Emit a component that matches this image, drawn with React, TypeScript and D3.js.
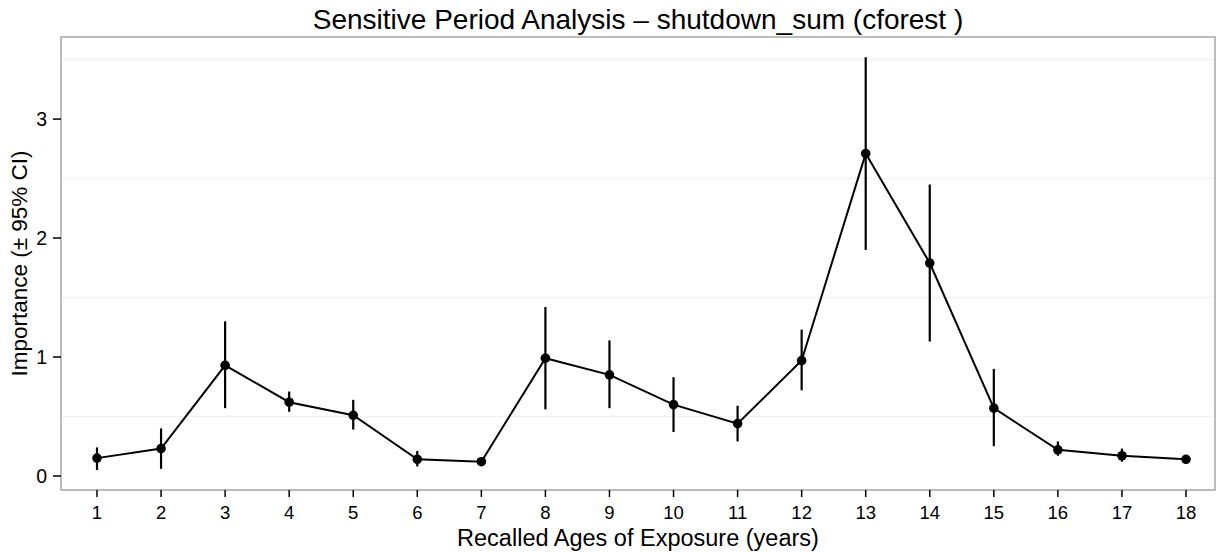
import React from "react";
import * as d3 from "d3";

const ages = [1, 2, 3, 4, 5, 6, 7, 8, 9, 10, 11, 12, 13, 14, 15, 16, 17, 18];
const importance = [0.15, 0.23, 0.93, 0.62, 0.51, 0.14, 0.12, 0.99, 0.85, 0.6, 0.44, 0.97, 2.71, 1.79, 0.57, 0.22, 0.17, 0.14];
const ciLow = [0.05, 0.06, 0.57, 0.54, 0.39, 0.08, 0.11, 0.56, 0.57, 0.37, 0.29, 0.72, 1.9, 1.13, 0.25, 0.17, 0.12, 0.12];
const ciHigh = [0.24, 0.4, 1.3, 0.71, 0.64, 0.21, 0.13, 1.42, 1.14, 0.83, 0.59, 1.23, 3.52, 2.45, 0.9, 0.29, 0.23, 0.16];
const yTicks = [0, 1, 2, 3];
const yMinor = [0.5, 1.5, 2.5, 3.5];

const W = 1217;
const H = 552;
const panel = { left: 61, top: 37, right: 1215, bottom: 490 };

export default function App() {
  const x = d3.scaleLinear().domain([1, 18]).range([97, 1186]);
  const y = d3.scaleLinear().domain([-0.118, 3.69]).range([panel.bottom, panel.top]);
  const line = d3
    .line<number>()
    .x((_, i) => x(ages[i]))
    .y((d) => y(d));
  const font = "'Liberation Sans', Arial, Helvetica, sans-serif";
  const cx = (panel.left + panel.right) / 2;
  return (
    <svg
      width={W}
      height={H}
      style={{ position: "absolute", left: 0, top: 0, background: "#fff" }}
      fontFamily={font}
    >
      <rect x={0} y={0} width={W} height={H} fill="#fff" />
      {yMinor.map((v) => (
        <line key={"m" + v} x1={panel.left} x2={panel.right} y1={y(v)} y2={y(v)} stroke="#f2f2f2" strokeWidth={1.5} />
      ))}
      <rect
        x={panel.left}
        y={panel.top}
        width={panel.right - panel.left}
        height={panel.bottom - panel.top}
        fill="none"
        stroke="#a6a6a6"
        strokeWidth={1.5}
      />
      {yTicks.map((v) => (
        <g key={"y" + v}>
          <line x1={panel.left - 8} x2={panel.left} y1={y(v)} y2={y(v)} stroke="#000" strokeWidth={1.5} />
          <text x={panel.left - 14} y={y(v)} dy="0.36em" textAnchor="end" fontSize={19.5} fill="#000">
            {v}
          </text>
        </g>
      ))}
      {ages.map((a) => (
        <g key={"x" + a}>
          <line x1={x(a)} x2={x(a)} y1={panel.bottom} y2={panel.bottom + 7} stroke="#000" strokeWidth={1.5} />
          <text x={x(a)} y={518.5} textAnchor="middle" fontSize={18.5} fill="#000">
            {a}
          </text>
        </g>
      ))}
      {ages.map((a, i) => (
        <line
          key={"e" + a}
          x1={x(a)}
          x2={x(a)}
          y1={y(ciLow[i])}
          y2={y(ciHigh[i])}
          stroke="#000"
          strokeWidth={2.2}
        />
      ))}
      <path d={line(importance) || ""} fill="none" stroke="#000" strokeWidth={2} />
      {ages.map((a, i) => (
        <circle key={"p" + a} cx={x(a)} cy={y(importance[i])} r={4.8} fill="#000" />
      ))}
      <text x={cx} y={29} textAnchor="middle" fontSize={28} fill="#000">
        Sensitive Period Analysis – shutdown_sum (cforest )
      </text>
      <text x={cx} y={546} textAnchor="middle" fontSize={23.5} fill="#000">
        Recalled Ages of Exposure (years)
      </text>
      <text
        transform={`translate(27, ${(panel.top + panel.bottom) / 2}) rotate(-90)`}
        textAnchor="middle"
        fontSize={22.5}
        fill="#000"
      >
        Importance (± 95% CI)
      </text>
    </svg>
  );
}
